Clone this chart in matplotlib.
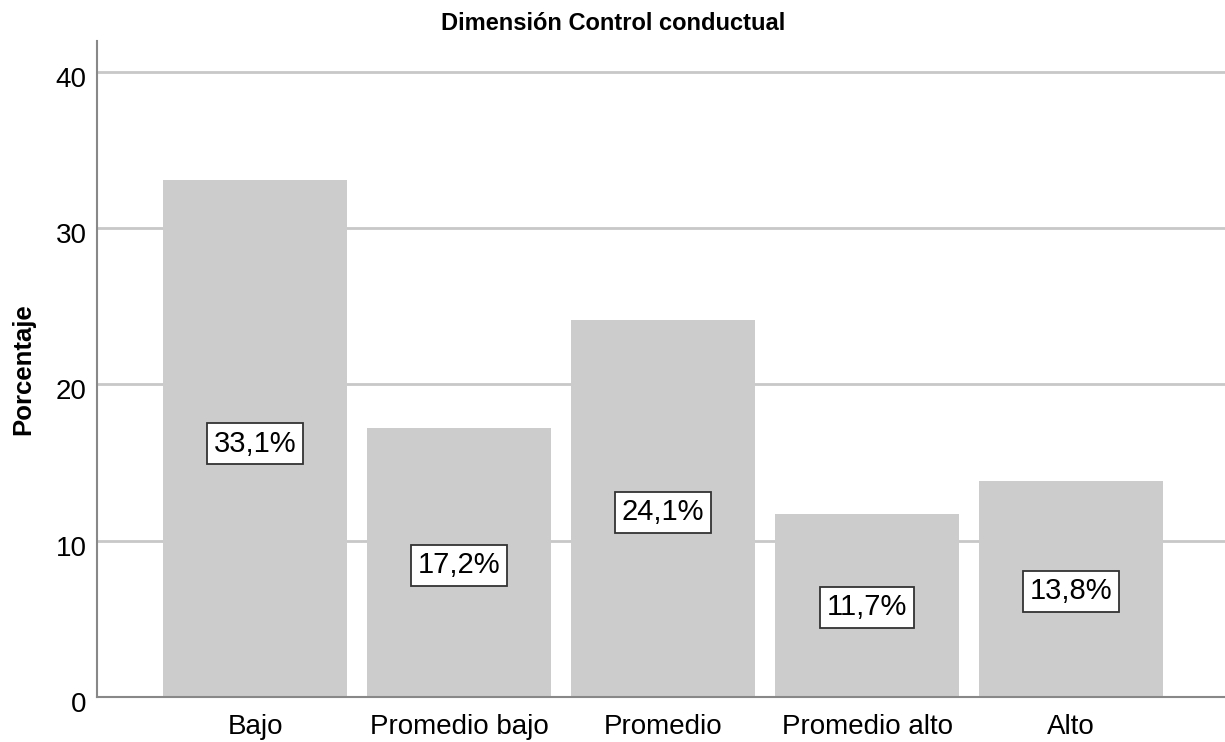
import matplotlib.pyplot as plt
import matplotlib.transforms as mtransforms

# Datos
categorias = ['Bajo', 'Promedio bajo', 'Promedio', 'Promedio alto', 'Alto']
porcentajes = [33.1, 17.2, 24.1, 11.7, 13.8]
etiquetas = ['33,1%', '17,2%', '24,1%', '11,7%', '13,8%']
yticks = [0, 10, 20, 30, 40]

plt.rcParams['font.family'] = ['Liberation Sans', 'DejaVu Sans']

fig = plt.figure(figsize=(12.25, 7.42), dpi=100)
ax = fig.add_axes([97 / 1225, 1 - 697 / 742, (1225 - 97) / 1225, (697 - 40.7) / 742])

x = range(len(categorias))
ax.bar(x, porcentajes, width=0.9, color='#cccccc', zorder=2)

for i, (v, t) in enumerate(zip(porcentajes, etiquetas)):
    ax.text(i, v * 0.49, t, ha='center', va='center', fontsize=21, zorder=3,
            bbox=dict(boxstyle='square,pad=0.22', facecolor='white',
                      edgecolor='#333333', linewidth=1.3))

ax.set_xlim(-0.775, 4.755)
ax.set_ylim(0, 42)
ax.set_yticks(yticks)
ax.set_xticks(list(x))
ax.set_xticklabels(categorias, fontsize=20)
ax.tick_params(axis='y', labelsize=20, length=0, pad=7.5)
ax.tick_params(axis='x', length=0, pad=12)
desplazar = mtransforms.ScaledTranslation(0, -5 / 100, fig.dpi_scale_trans)
for lbl in ax.get_yticklabels():
    lbl.set_transform(lbl.get_transform() + desplazar)

ax.grid(axis='y', color='#c8c8c8', linewidth=2, zorder=1)
ax.set_axisbelow(True)
for s in ['top', 'right']:
    ax.spines[s].set_visible(False)
for s in ['left', 'bottom']:
    ax.spines[s].set_color('#888888')
    ax.spines[s].set_linewidth(1.5)
    ax.spines[s].set_zorder(4)

fig.text(613 / 1225, 1 - 23 / 742, 'Dimensión Control conductual', ha='center',
         va='center', fontsize=17, fontweight='bold')
fig.text(23 / 1225, 1 - 369 / 742, 'Porcentaje', ha='center', va='center',
         rotation=90, fontsize=18.5, fontweight='bold')

fig.savefig('out.png', dpi=100)
